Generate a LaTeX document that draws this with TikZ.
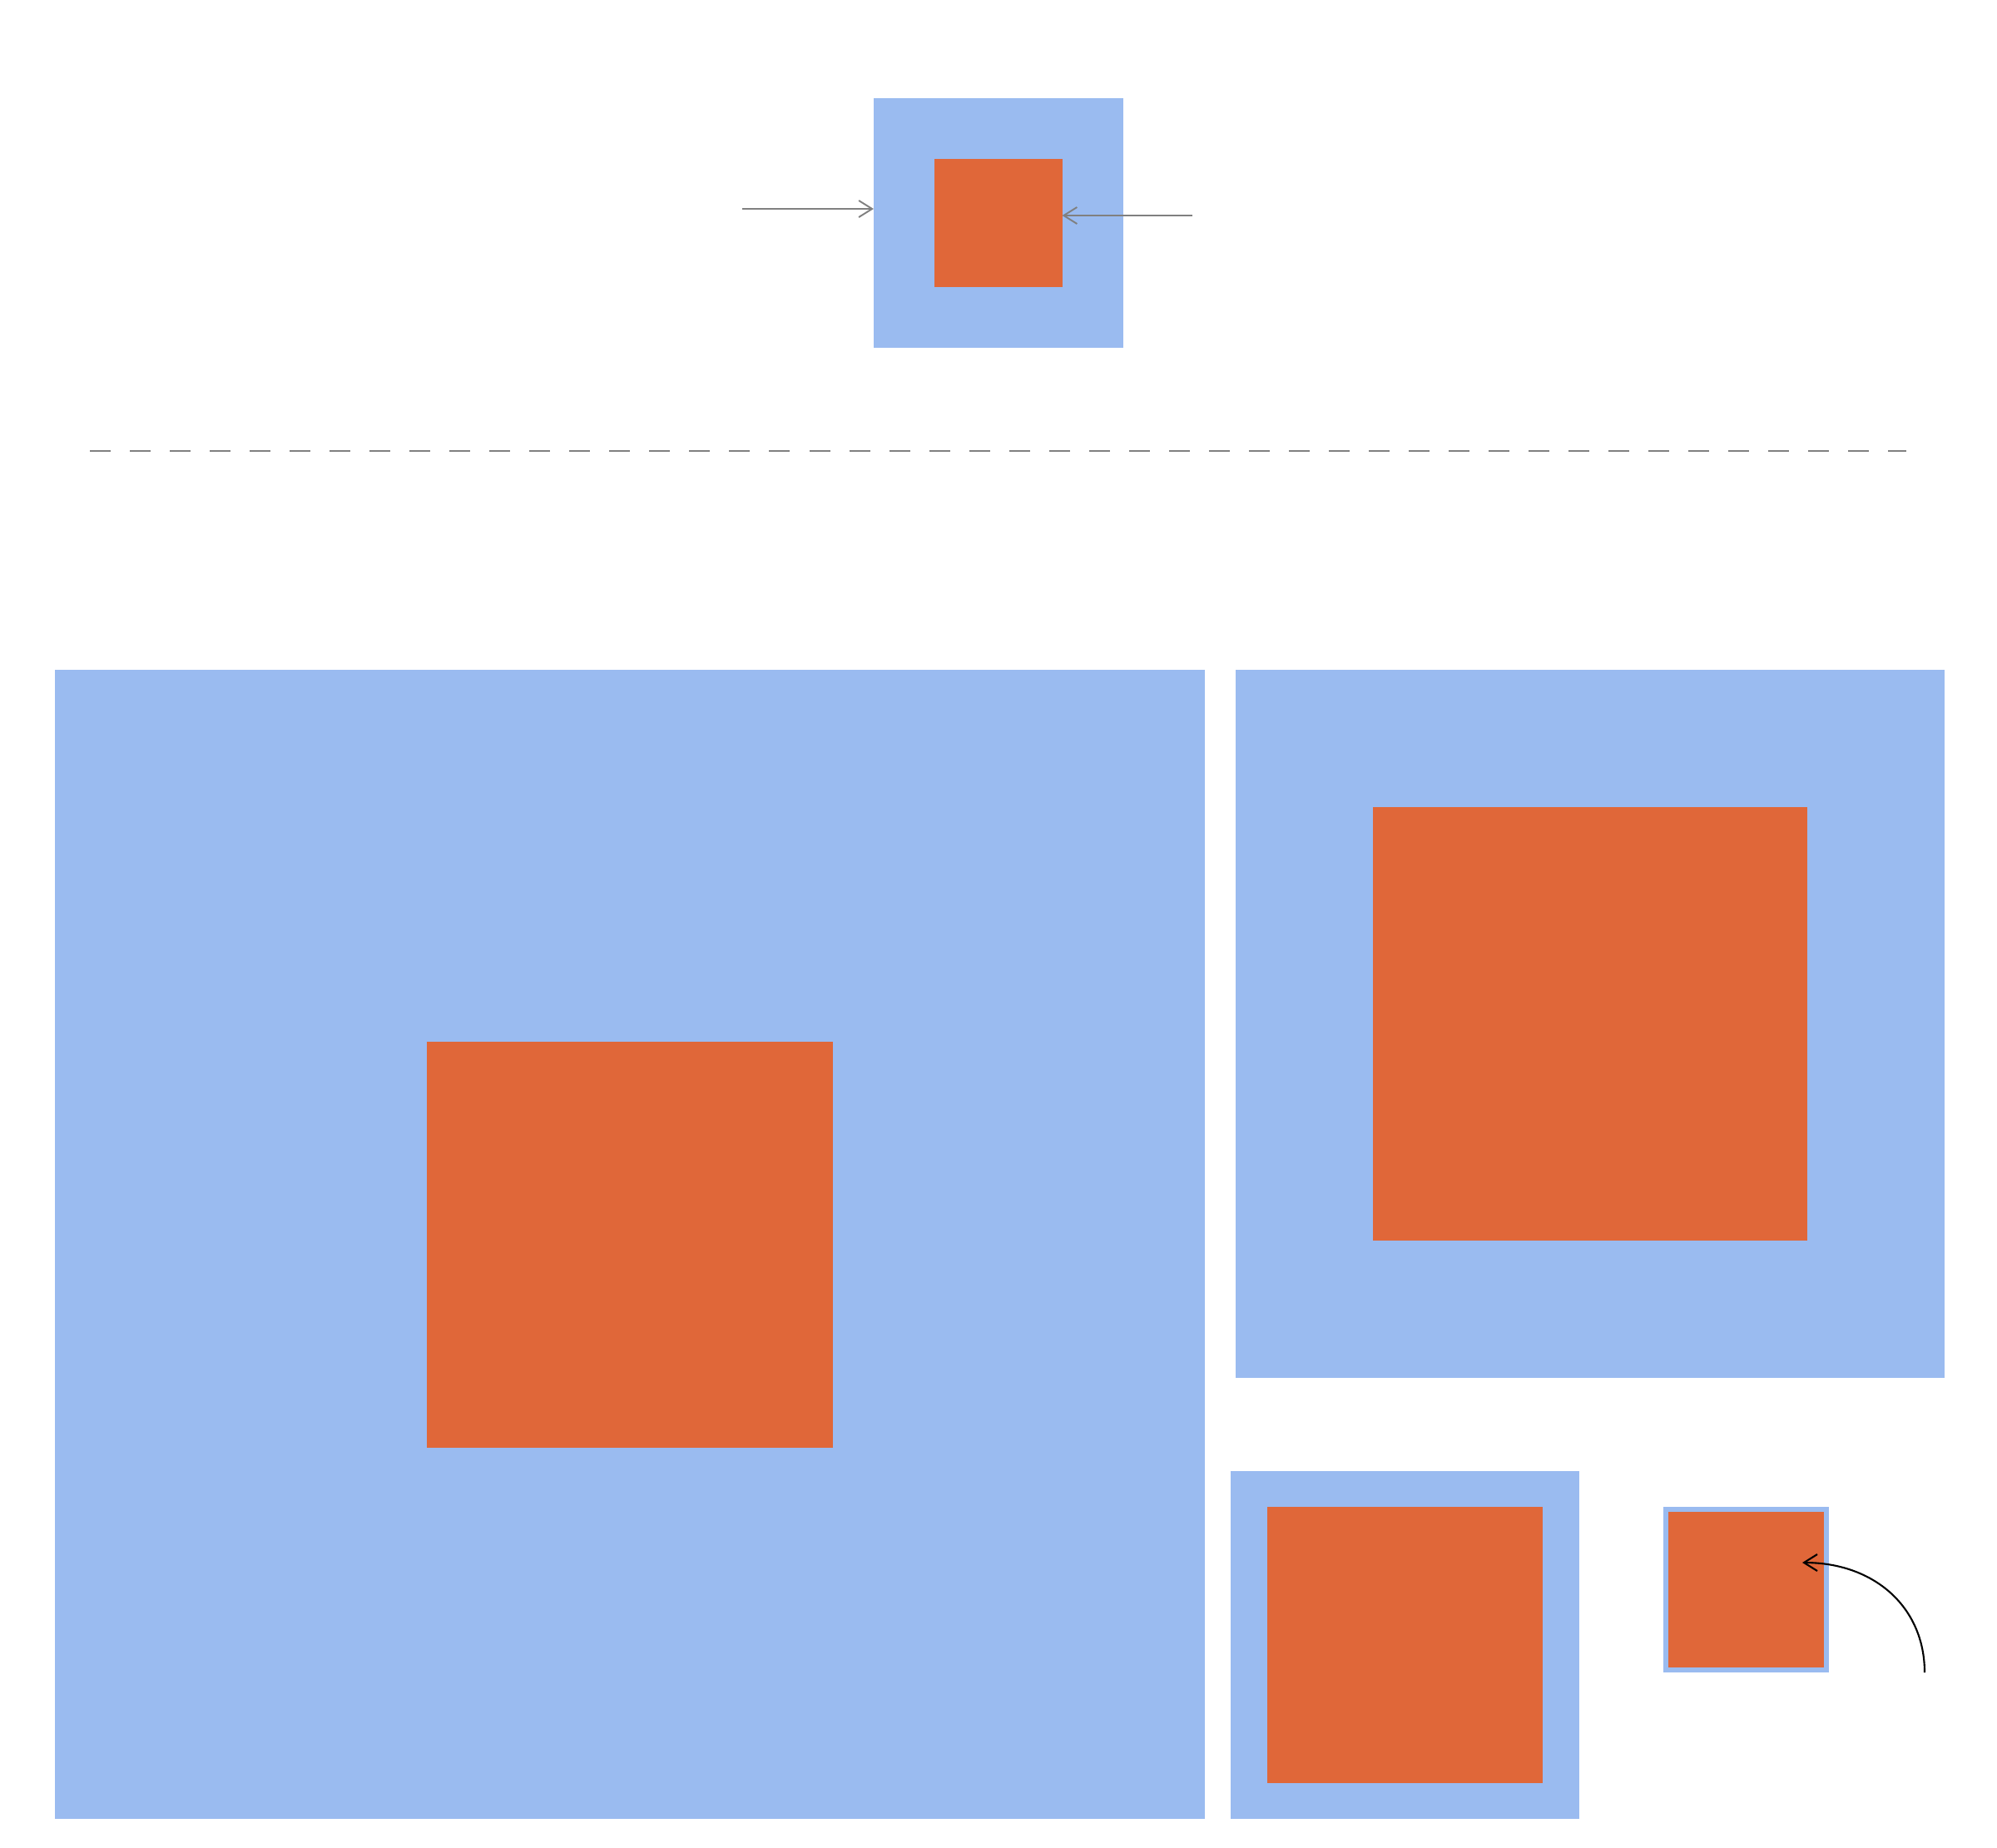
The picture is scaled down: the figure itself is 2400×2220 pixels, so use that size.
\documentclass[tikz,border=0pt]{standalone}
\usetikzlibrary{arrows.meta}
\definecolor{sqblue}{RGB}{154,187,240}
\definecolor{sqorange}{RGB}{224,103,57}
\definecolor{lgray}{RGB}{128,128,128}
\begin{document}
\begin{tikzpicture}[x=0.01cm,y=-0.01cm,
  outerbox/.style={fill=sqblue,draw=none,inner sep=0pt,outer sep=0pt,rectangle},
  innerbox/.style={fill=sqorange,draw=none,inner sep=0pt,outer sep=0pt,rectangle},
  grayarrow/.style={draw=lgray,line width=0.55pt,-{Straight Barb[length=0.16cm,width=0.2cm]}},
  blackarrow/.style={draw=black,line width=0.6pt,-{Straight Barb[length=0.16cm,width=0.2cm]}},
  divider/.style={draw=lgray,line width=0.6pt,dash pattern=on 0.25cm off 0.23cm}]
\useasboundingbox (0,0) rectangle (2400,2220);
% top
\node[outerbox,minimum width=3cm,minimum height=3cm] (topo) at (1200,268) {};
\node[innerbox,minimum width=1.53cm,minimum height=1.53cm] (topi) at (1200,268) {};
\coordinate (la) at (892,251);
\coordinate (ra) at (1433,259);
\draw[grayarrow] (la) -- (la -| topo.west);
\draw[grayarrow] (ra) -- (ra -| topi.east);
% divider
\coordinate (d1) at (108,542);
\coordinate (d2) at (2291,542);
\draw[divider] (d1) -- (d2);
% big
\node[outerbox,minimum width=13.81cm,minimum height=13.81cm] (bigo) at (757,1495.5) {};
\node[innerbox,minimum width=4.88cm,minimum height=4.88cm] (bigi) at (757,1496) {};
% right top
\node[outerbox,minimum width=8.52cm,minimum height=8.51cm] (rto) at (1911,1230.5) {};
\node[innerbox,minimum width=5.22cm,minimum height=5.21cm] (rti) at (1911,1230.5) {};
% bottom middle
\node[outerbox,minimum width=4.19cm,minimum height=4.18cm] (bmo) at (1688.5,1977) {};
\node[innerbox,minimum width=3.31cm,minimum height=3.32cm] (bmi) at (1688.5,1977) {};
% small
\node[outerbox,minimum width=1.99cm,minimum height=1.99cm] (smo) at (2098.5,1910.5) {};
\node[innerbox,minimum width=1.87cm,minimum height=1.87cm] (smi) at (2098.5,1910.5) {};
\coordinate (cs) at (2313,2010);
\coordinate (ce) at (2166,1878);
\draw[blackarrow] (cs) .. controls (2313,1932) and (2253,1878) .. (ce);
\end{tikzpicture}
\end{document}
